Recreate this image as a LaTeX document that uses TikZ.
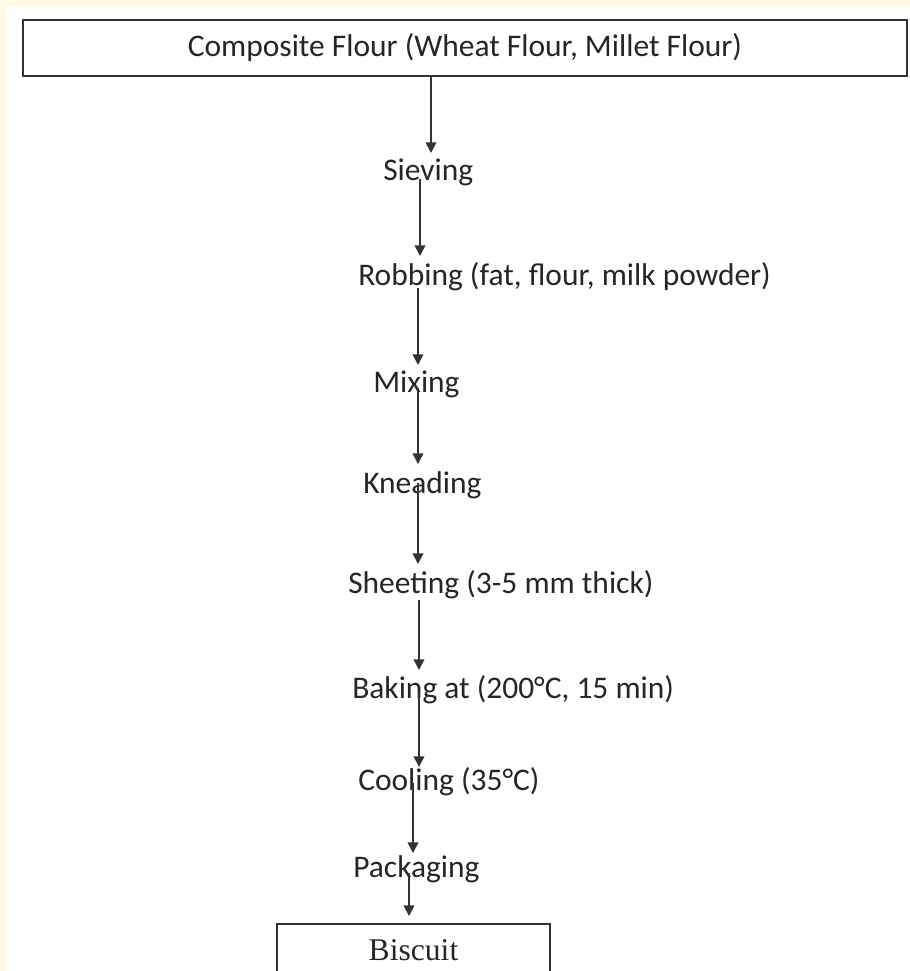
\documentclass[tikz,border=0pt]{standalone}
\usepackage{fontspec}
\setmainfont{Carlito}
\newfontfamily\serifbox{Liberation Serif}
\usetikzlibrary{arrows.meta}
\definecolor{cream}{HTML}{FFF9E6}
\definecolor{ink}{HTML}{262626}
\definecolor{edge}{HTML}{333333}
\tikzset{
  steptext/.style={anchor=base west, inner sep=0pt, text=ink, font=\fontsize{23.6pt}{28pt}\selectfont},
  arr/.style={draw=edge, line width=1.2pt, -{Triangle[width=8pt,length=8pt]}},
  boxline/.style={draw=edge, line width=1.3pt}
}
\begin{document}
\begin{tikzpicture}[x=0.75pt,y=-0.75pt]
\useasboundingbox (0,0) rectangle (910,971);
\clip (0,0) rectangle (910,971);
\fill[cream] (0,0) rectangle (910,971);
\fill[white] (7,6) rectangle (910,971);
% top box
\node (top) [boxline, minimum width=663pt, minimum height=42pt, inner sep=0pt, text=ink,
  font=\fontsize{23.6pt}{28pt}\selectfont] at (465,48) {Composite Flour (Wheat Flour, Millet Flour)};
% steps
\node (sieve) [steptext] at (383,180) {Sieving};
\node (rob)   [steptext] at (358,285) {Robbing (fat, flour, milk powder)};
\node (mix)   [steptext] at (373,392) {Mixing};
\node (knead) [steptext] at (363,493) {Kneading};
\node (sheet) [steptext] at (348,593) {Sheeting (3-5 mm thick)};
\node (bake)  [steptext] at (352,698) {Baking at (200°C, 15 min)};
\node (cool)  [steptext] at (358,790) {Cooling (35°C)};
\node (pack)  [steptext] at (353,877) {Packaging};
% biscuit box
\node (bisc) [boxline, anchor=north, minimum width=204.75pt, inner xsep=0pt, inner ysep=0pt,
  text height=27.75pt, text depth=40pt, text=ink, font=\serifbox\fontsize{23.7pt}{28pt}\selectfont]
  at (413.5,923) {Biscuit};
% arrow end points
\coordinate (s1) at (431,76);  \coordinate (e1) at (431,153);
\coordinate (s2) at (420,179); \coordinate (e2) at (420,256);
\coordinate (s3) at (418,288); \coordinate (e3) at (418,365);
\coordinate (s4) at (418,388); \coordinate (e4) at (418,464);
\coordinate (s5) at (418,483); \coordinate (e5) at (418,564);
\coordinate (s6) at (419,600); \coordinate (e6) at (419,670);
\coordinate (s7) at (419,693); \coordinate (e7) at (419,767);
\coordinate (s8) at (413,783); \coordinate (e8) at (413,853);
\coordinate (s9) at (409,873); \coordinate (e9) at (409,916);
\draw[arr] (s1) -- (e1);
\draw[arr] (s2) -- (e2);
\draw[arr] (s3) -- (e3);
\draw[arr] (s4) -- (e4);
\draw[arr] (s5) -- (e5);
\draw[arr] (s6) -- (e6);
\draw[arr] (s7) -- (e7);
\draw[arr] (s8) -- (e8);
\draw[arr] (s9) -- (e9);
\end{tikzpicture}
\end{document}
